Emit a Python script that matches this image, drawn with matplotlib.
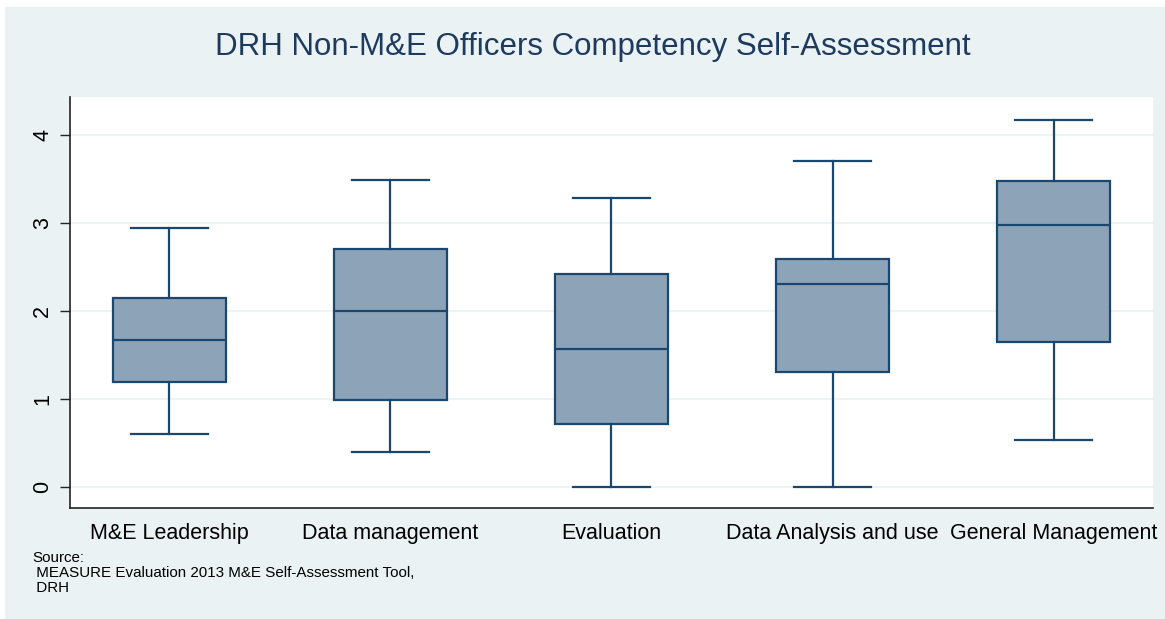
import matplotlib
matplotlib.use("Agg")
import matplotlib.pyplot as plt
from matplotlib.patches import Rectangle

categories = ["M&E Leadership", "Data management", "Evaluation",
              "Data Analysis and use", "General Management"]
lower_whisker = [0.60, 0.40, 0.00, 0.00, 0.53]
q1 = [1.19, 0.99, 0.72, 1.31, 1.65]
median = [1.67, 2.00, 1.57, 2.30, 2.97]
q3 = [2.15, 2.70, 2.42, 2.59, 3.47]
upper_whisker = [2.94, 3.49, 3.28, 3.70, 4.17]
yticks = [0, 1, 2, 3, 4]

W, H = 1165, 619
fig = plt.figure(figsize=(W / 100, H / 100), dpi=100)
fig.patch.set_facecolor("white")
bg = "#EAF2F3"
fig.patches.append(Rectangle((5 / W, 0), 1 - 5 / W, 1 - 7 / H,
                             transform=fig.transFigure, facecolor=bg,
                             edgecolor="none", zorder=-10))

left, right, top, bottom = 70, 1153, 97, 508
ax = fig.add_axes([left / W, 1 - bottom / H, (right - left) / W, (bottom - top) / H])
ax.set_facecolor("white")

stats = []
for i, c in enumerate(categories):
    stats.append(dict(label=c, whislo=lower_whisker[i], q1=q1[i], med=median[i],
                      q3=q3[i], whishi=upper_whisker[i], fliers=[]))

navy = "#1A476F"
ax.bxp(stats, positions=range(1, len(categories) + 1), widths=0.51,
       patch_artist=True, showfliers=False,
       boxprops=dict(facecolor="#8DA4B8", edgecolor=navy, linewidth=1.6),
       medianprops=dict(color=navy, linewidth=1.6),
       whiskerprops=dict(color=navy, linewidth=1.6),
       capprops=dict(color=navy, linewidth=1.6),
       capwidths=0.35)

ax.set_xlim(0.55, 5.45)
ax.set_ylim(-0.24, 4.43)
ax.set_yticks(yticks)
ax.set_yticklabels([str(t) for t in yticks], rotation=90, va="center")
ax.yaxis.grid(True, color=bg, linewidth=1.2)
ax.set_axisbelow(True)
for s in ["top", "right"]:
    ax.spines[s].set_visible(False)
for s in ["left", "bottom"]:
    ax.spines[s].set_color("#222222")
    ax.spines[s].set_linewidth(1.2)
ax.tick_params(axis="y", direction="out", length=7, width=1.0, color="#222222",
               labelsize=15.5, pad=5)
ax.tick_params(axis="x", length=0, labelsize=15.5, pad=11)
for lab in ax.get_xticklabels() + ax.get_yticklabels():
    lab.set_fontfamily("Liberation Sans")

fig.text(0.5 + 10 / W, 1 - 47 / H, "DRH Non-M&E Officers Competency Self-Assessment",
         ha="center", va="center", fontsize=22.5, color="#1E3A5F",
         family="Liberation Sans")
fig.text(32 / W, 1 - 573 / H,
         "Source:\n MEASURE Evaluation 2013 M&E Self-Assessment Tool,\n DRH",
         ha="left", va="center", fontsize=10.9, color="black",
         family="Liberation Sans", linespacing=1.13)

fig.savefig("out.png", dpi=100, facecolor=fig.get_facecolor())
